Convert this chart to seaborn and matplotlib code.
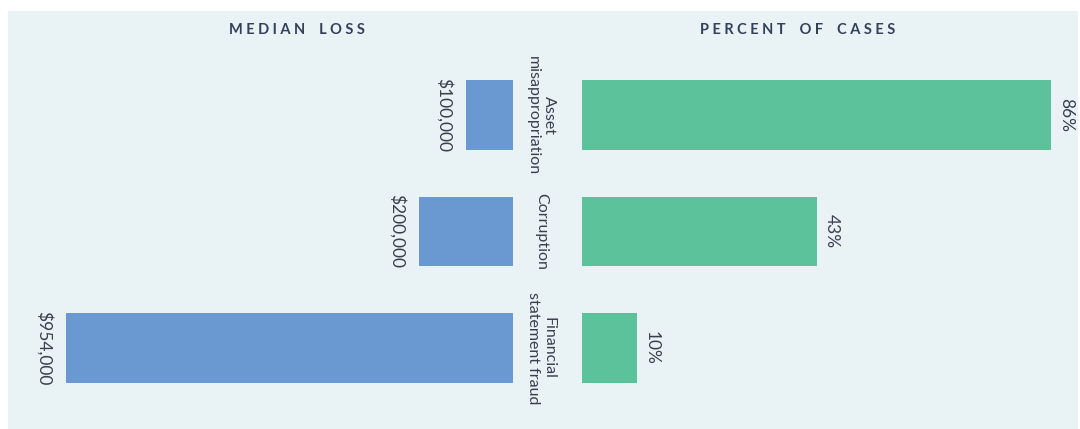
import matplotlib
matplotlib.use("Agg")
import matplotlib.pyplot as plt
import matplotlib.transforms as mtransforms
from matplotlib.patches import Rectangle
import seaborn as sns
import pandas as pd

categories = ["Asset\nmisappropriation", "Corruption", "Financial\nstatement fraud"]
median_loss = [100000, 200000, 954000]
median_loss_labels = ["$100,000", "$200,000", "$954,000"]
percent_cases = [86, 43, 10]
percent_labels = ["86%", "43%", "10%"]
titles = ["MEDIAN LOSS", "PERCENT OF CASES"]

BG = "#e9f2f5"
BLUE = "#6a98d0"
GREEN = "#5cc29b"
TEXT = "#3a3f4c"
TITLE = "#34405a"

sns.set_theme(style="white")
plt.rcParams["font.family"] = ["Lato", "DejaVu Sans"]

W, H = 1080, 429
fig = plt.figure(figsize=(W / 100, H / 100), dpi=100, facecolor="white")
fig.patches.append(Rectangle((8 / W, 1 - 429 / H), 1070 / W, (429 - 11) / H,
                             transform=fig.transFigure, facecolor=BG,
                             edgecolor="none", zorder=-5))

df = pd.DataFrame({"cat": categories, "loss": median_loss, "pct": percent_cases})

def px_rect(x0, x1, ytop, ybot):
    return [x0 / W, 1 - ybot / H, (x1 - x0) / W, (ybot - ytop) / H]

ax_l = fig.add_axes(px_rect(20, 513, 57, 406))
ax_r = fig.add_axes(px_rect(582, 1070, 57, 406))

sns.barplot(data=df, x="loss", y="cat", ax=ax_l, color=BLUE, saturation=1,
            width=0.6, orient="h", linewidth=0)
sns.barplot(data=df, x="pct", y="cat", ax=ax_r, color=GREEN, saturation=1,
            width=0.6, orient="h", linewidth=0)

ax_l.set_xlim(954000 * 493 / 447, 0)
ax_r.set_xlim(0, 86 * 488 / 469)

for ax in (ax_l, ax_r):
    ax.set_facecolor("none")
    ax.set_xlabel("")
    ax.set_ylabel("")
    ax.set_xticks([])
    ax.set_yticks([])
    for s in ax.spines.values():
        s.set_visible(False)
    ax.set_ylim(2.5, -0.5)

for i, (v, lab) in enumerate(zip(median_loss, median_loss_labels)):
    ax_l.annotate(lab, (v, i), xytext=(-10, 0), textcoords="offset points",
                  ha="right", va="center", rotation=-90, fontsize=12.5,
                  color=TEXT, annotation_clip=False)
for i, (v, lab) in enumerate(zip(percent_cases, percent_labels)):
    ax_r.annotate(lab, (v, i), xytext=(5, 0), textcoords="offset points",
                  ha="left", va="center", rotation=-90, fontsize=12.5,
                  color=TEXT, annotation_clip=False)

trans = mtransforms.blended_transform_factory(fig.transFigure, ax_r.transData)
for i, c in enumerate(categories):
    fig.text(541 / W, i, c, transform=trans, ha="center", va="center",
             rotation=-90, fontsize=11.5, color=TEXT, linespacing=1.15,
             multialignment="center")

def spaced(s):
    words = s.split(" ")
    return "    ".join(" ".join(w) for w in words)

fig.text(297 / W, 1 - 30 / H, spaced(titles[0]), ha="center", va="center",
         fontsize=10.5, color=TITLE, fontweight="bold")
fig.text(798 / W, 1 - 30 / H, spaced(titles[1]), ha="center", va="center",
         fontsize=10.5, color=TITLE, fontweight="bold")

fig.savefig("out.png", dpi=100, facecolor="white")
